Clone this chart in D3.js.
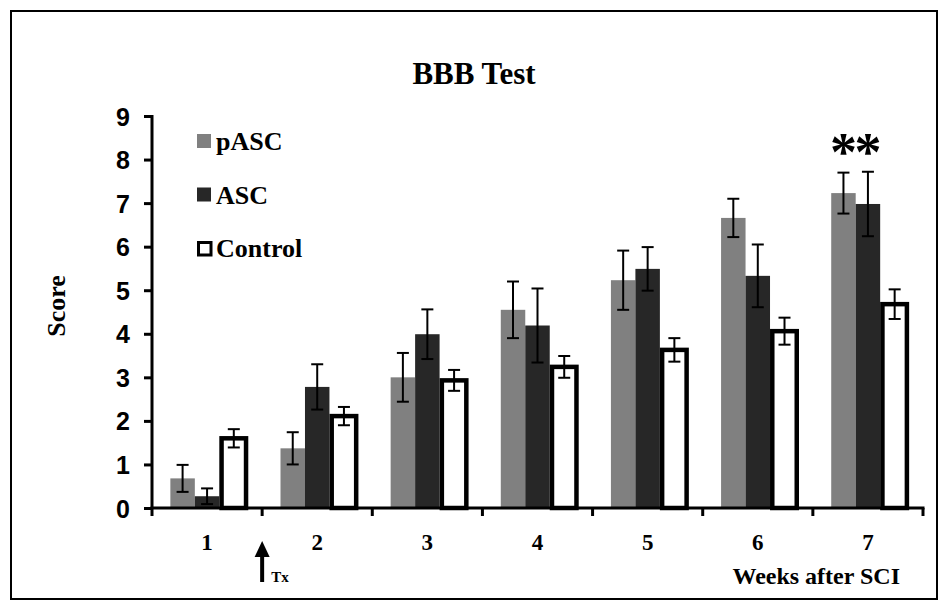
<!DOCTYPE html>
<html>
<head>
<meta charset="utf-8">
<script src="https://cdn.jsdelivr.net/npm/d3@7"></script>
<style>
  body { margin: 0; background: #fff; }
</style>
</head>
<body>
<div id="chart"></div>
<script>
var W = 948, H = 610;

// data
var weeks = ["1", "2", "3", "4", "5", "6", "7"];
var groups = ["pASC", "ASC", "Control"];
var pASC = [0.68, 1.37, 3.0, 4.55, 5.23, 6.66, 7.23];
var pASCErr = [0.31, 0.37, 0.56, 0.65, 0.68, 0.44, 0.47];
var ASC = [0.27, 2.78, 3.99, 4.19, 5.49, 5.33, 6.98];
var ASCErr = [0.18, 0.52, 0.57, 0.85, 0.5, 0.72, 0.74];
var control = [1.6, 2.11, 2.93, 3.24, 3.63, 4.06, 4.68];
var controlErr = [0.21, 0.21, 0.24, 0.25, 0.27, 0.31, 0.34];
var yTicks = [0, 1, 2, 3, 4, 5, 6, 7, 8, 9];

var colors = { pASC: "#808080", ASC: "#272727", Control: "#ffffff" };
var serif = "'Liberation Serif', 'Times New Roman', serif";
var sans = "'Liberation Sans', Arial, sans-serif";

// plot area
var pLeft = 152, pRight = 923, pTop = 116, pBottom = 508;

var svg = d3.select("#chart").append("svg")
    .attr("width", W)
    .attr("height", H);

// outer frame
svg.append("rect")
    .attr("x", 11).attr("y", 11)
    .attr("width", W - 22).attr("height", H - 22)
    .attr("fill", "none")
    .attr("stroke", "#000")
    .attr("stroke-width", 2);

var x0 = d3.scaleBand()
    .domain(weeks)
    .range([pLeft, pRight])
    .paddingInner(1 / 3)
    .paddingOuter(1 / 6);

var x1 = d3.scaleBand()
    .domain(groups)
    .range([0, x0.bandwidth()]);

var y = d3.scaleLinear()
    .domain([0, 9])
    .range([pBottom, pTop]);

var rows = weeks.map(function(w, i) {
  return [
    { week: w, key: "pASC", v: pASC[i], e: pASCErr[i] },
    { week: w, key: "ASC", v: ASC[i], e: ASCErr[i] },
    { week: w, key: "Control", v: control[i], e: controlErr[i] }
  ];
});

var g = svg.selectAll("g.week")
    .data(rows)
    .enter()
    .append("g")
    .attr("class", "week")
    .attr("transform", function(d) { return "translate(" + x0(d[0].week) + ",0)"; });

var sw = 4.5; // border of the control bars
g.selectAll("rect")
    .data(function(d) { return d; })
    .enter()
    .append("rect")
    .attr("x", function(d) { return x1(d.key) + (d.key == "Control" ? sw / 2 : 0); })
    .attr("y", function(d) { return y(d.v); })
    .attr("width", x1.bandwidth())
    .attr("height", function(d) { return y(0) - y(d.v); })
    .attr("fill", function(d) { return colors[d.key]; })
    .attr("stroke", function(d) { return d.key == "Control" ? "#000" : "none"; })
    .attr("stroke-width", sw);

// error bars
var cap = 6;
var err = g.selectAll("g.err")
    .data(function(d) { return d; })
    .enter()
    .append("g")
    .attr("class", "err")
    .attr("stroke", "#000")
    .attr("stroke-width", 2);
function cx(d) { return x1(d.key) + x1.bandwidth() / 2 + (d.key == "Control" ? sw / 2 : 0); }
err.append("line")
    .attr("x1", cx).attr("x2", cx)
    .attr("y1", function(d) { return y(d.v + d.e); })
    .attr("y2", function(d) { return y(d.v - d.e); });
err.append("line")
    .attr("x1", function(d) { return cx(d) - cap; })
    .attr("x2", function(d) { return cx(d) + cap; })
    .attr("y1", function(d) { return y(d.v + d.e); })
    .attr("y2", function(d) { return y(d.v + d.e); });
err.append("line")
    .attr("x1", function(d) { return cx(d) - cap; })
    .attr("x2", function(d) { return cx(d) + cap; })
    .attr("y1", function(d) { return y(d.v - d.e); })
    .attr("y2", function(d) { return y(d.v - d.e); });

// y axis
var yAxis = svg.append("g")
    .attr("transform", "translate(" + pLeft + ",0)")
    .attr("font-size", null)
    .attr("font-family", null)
    .call(d3.axisLeft(y).tickValues(yTicks).tickSize(8).tickPadding(14).tickFormat(d3.format("d")));
yAxis.attr("font-size", 25).attr("font-family", sans).attr("font-weight", "bold");
yAxis.select(".domain").attr("stroke-width", 3).attr("d", "M0," + pBottom + "V" + (pTop - 1));
yAxis.selectAll(".tick line").attr("stroke-width", 3);
yAxis.selectAll(".tick text")
    .attr("dy", "0.36em")
    .attr("fill", "#000");

// x axis: ticks on the band edges, labels in the middle
var edges = weeks.map(function(w) { return x0(w) - x0.step() * x0.paddingOuter(); });
edges.push(pRight);
var xAxis = svg.append("g").attr("transform", "translate(0," + pBottom + ")");
xAxis.append("line")
    .attr("x1", pLeft - 1.5).attr("x2", pRight + 1.5)
    .attr("stroke", "#000").attr("stroke-width", 3);
xAxis.selectAll("line.tk")
    .data(edges)
    .enter()
    .append("line")
    .attr("class", "tk")
    .attr("x1", function(d) { return d; })
    .attr("x2", function(d) { return d; })
    .attr("y1", 0).attr("y2", 8)
    .attr("stroke", "#000").attr("stroke-width", 3);
xAxis.selectAll("text")
    .data(weeks)
    .enter()
    .append("text")
    .text(function(d) { return d; })
    .attr("x", function(d) { return x0(d) + x0.bandwidth() / 2; })
    .attr("y", 42)
    .attr("text-anchor", "middle")
    .attr("font-family", serif)
    .attr("font-weight", "bold")
    .attr("font-size", "23px");

// title and axis labels
svg.append("text")
    .text("BBB Test")
    .attr("x", 474).attr("y", 84)
    .attr("text-anchor", "middle")
    .attr("font-family", serif)
    .attr("font-weight", "bold")
    .attr("font-size", "31px");

svg.append("text")
    .text("Score")
    .attr("transform", "translate(65,306) rotate(-90)")
    .attr("text-anchor", "middle")
    .attr("font-family", serif)
    .attr("font-weight", "bold")
    .attr("font-size", "26px");

svg.append("text")
    .text("Weeks after SCI")
    .attr("x", 900).attr("y", 584)
    .attr("text-anchor", "end")
    .attr("font-family", serif)
    .attr("font-weight", "bold")
    .attr("font-size", "24px");

// legend
var legend = svg.selectAll("g.legend")
    .data(groups)
    .enter()
    .append("g")
    .attr("class", "legend")
    .attr("transform", function(d, i) { return "translate(197," + (150 + i * 53.5) + ")"; });
legend.append("rect")
    .attr("x", function(d) { return d == "Control" ? 1.5 : 0; })
    .attr("y", function(d) { return d == "Control" ? -14.5 : -16; })
    .attr("width", function(d) { return d == "Control" ? 12.5 : 14; })
    .attr("height", function(d) { return d == "Control" ? 12.5 : 14; })
    .attr("fill", function(d) { return colors[d]; })
    .attr("stroke", function(d) { return d == "Control" ? "#000" : "none"; })
    .attr("stroke-width", 3);
legend.append("text")
    .text(function(d) { return d; })
    .attr("x", 19)
    .attr("y", 0)
    .attr("font-family", serif)
    .attr("font-weight", "bold")
    .attr("font-size", "26px");

// significance marks over week 7
svg.selectAll("text.star")
    .data(["pASC", "ASC"])
    .enter()
    .append("text")
    .attr("class", "star")
    .text("*")
    .attr("x", function(d) { return x0("7") + x1(d) + x1.bandwidth() / 2; })
    .attr("y", 170)
    .attr("text-anchor", "middle")
    .attr("font-family", serif)
    .attr("font-weight", "bold")
    .attr("font-size", "54px");

// treatment arrow
var ax = edges[1];
svg.append("line")
    .attr("x1", ax).attr("x2", ax)
    .attr("y1", 554).attr("y2", 582)
    .attr("stroke", "#000").attr("stroke-width", 4);
svg.append("path")
    .attr("d", d3.line()([[ax, 541], [ax - 7.5, 557], [ax + 7.5, 557]]) + "Z")
    .attr("fill", "#000");
svg.append("text")
    .text("Tx")
    .attr("x", ax + 9).attr("y", 582)
    .attr("font-family", serif)
    .attr("font-weight", "bold")
    .attr("font-size", "15px");
</script>
</body>
</html>
